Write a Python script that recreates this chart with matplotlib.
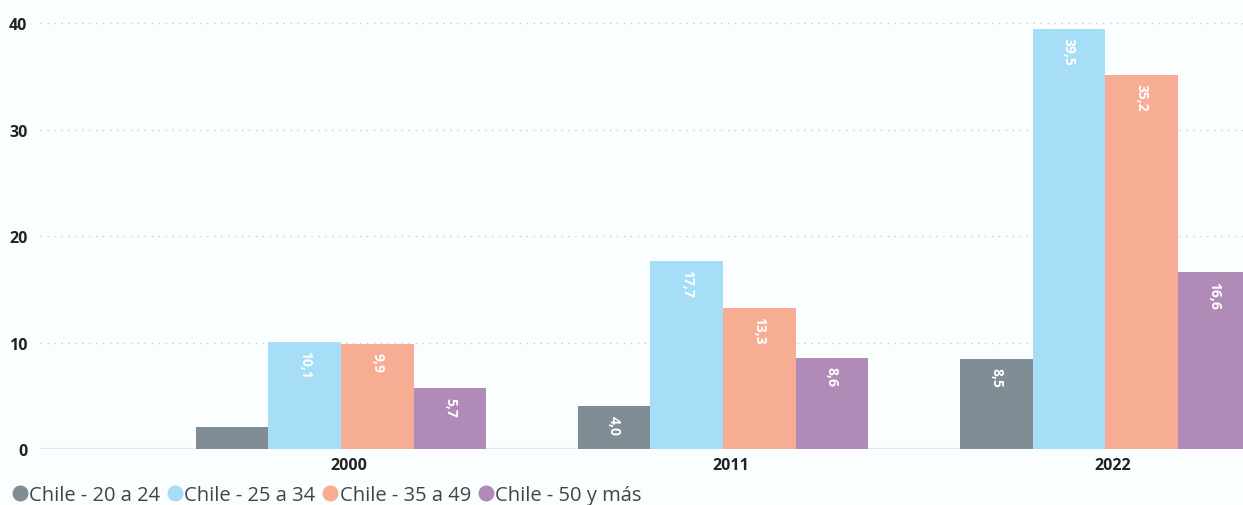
import numpy as np
import matplotlib
matplotlib.use('Agg')
import matplotlib.pyplot as plt
from matplotlib.lines import Line2D

anios = ['2000', '2011', '2022']
series = ['Chile - 20 a 24', 'Chile - 25 a 34', 'Chile - 35 a 49', 'Chile - 50 y más']
valores = [
    [2.1, 4.0, 8.5],
    [10.1, 17.7, 39.5],
    [9.9, 13.3, 35.2],
    [5.7, 8.6, 16.6],
]
# etiquetas visibles (la barra pequeña de 2000 no muestra valor)
etiquetas = [
    [None, '4,0', '8,5'],
    ['10,1', '17,7', '39,5'],
    ['9,9', '13,3', '35,2'],
    ['5,7', '8,6', '16,6'],
]
colores = ['#808d94', '#a6ddf7', '#f7ad94', '#b18bb8']

plt.rcParams['font.family'] = ['Open Sans', 'DejaVu Sans']

fig = plt.figure(figsize=(12.43, 5.06), dpi=100)
fig.patch.set_facecolor('#fbfeff')
ax = fig.add_axes([40 / 1243, 56 / 506, 1 - 40 / 1243, 1 - 56 / 506])
ax.set_facecolor('#fbfeff')

x = np.arange(len(anios))
ancho = 0.19
for i, (nombre, vals) in enumerate(zip(series, valores)):
    pos = x + (i - 1.5) * ancho
    ax.bar(pos, vals, width=ancho, color=colores[i], zorder=3)
    for p, v, et in zip(pos, vals, etiquetas[i]):
        if et is None:
            continue
        ax.annotate(et, (p, v), xytext=(0, -6), textcoords='offset points',
                    rotation=-90, ha='center', va='top', color='white',
                    fontsize=10, fontweight='bold', fontstretch='condensed',
                    zorder=4)

ax.set_xlim(-0.788, 2.361)
ax.set_ylim(0, 42.3)
ax.set_yticks([0, 10, 20, 30, 40])
ax.set_xticks(x + 0.02)
ax.set_xticklabels(anios)
ax.tick_params(axis='both', length=0, labelsize=11.5)
ax.tick_params(axis='y', pad=9)
ax.tick_params(axis='x', pad=6)
for lab in ax.get_xticklabels() + ax.get_yticklabels():
    lab.set_fontweight('bold')
    lab.set_color('#222222')

ax.grid(axis='y', linestyle=(0, (1, 4)), color='#c8ccd0', linewidth=1, zorder=0)
for s in ax.spines.values():
    s.set_visible(False)
ax.axhline(0, color='#e3e8f7', linewidth=2.5, zorder=2)

handles = [Line2D([], [], marker='o', linestyle='none', markersize=10.5,
                  markerfacecolor=c, markeredgecolor=c) for c in colores]
fig.legend(handles, series, loc='lower left', bbox_to_anchor=(-0.006, -0.035),
           ncol=4, frameon=False, fontsize=14.5, handletextpad=0.0,
           columnspacing=0.3, labelcolor='#444444', handlelength=0.9)

fig.savefig('out.png', dpi=100, facecolor=fig.get_facecolor())
